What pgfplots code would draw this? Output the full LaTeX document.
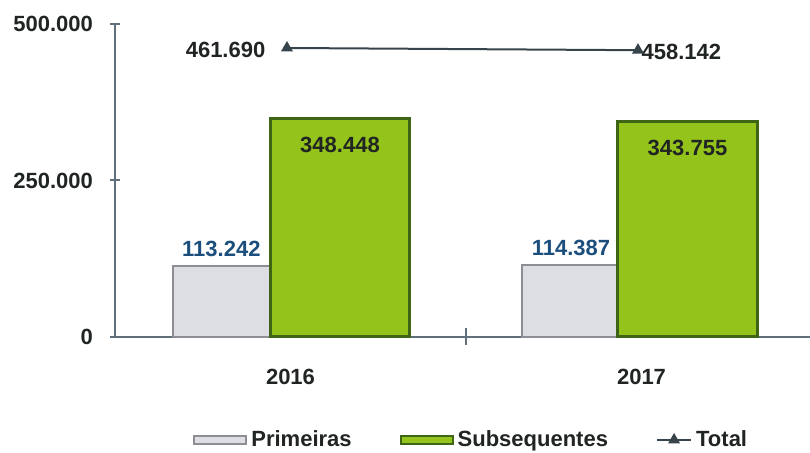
\documentclass[border=0pt]{standalone}
\usepackage{pgfplots}
\pgfplotsset{compat=1.18}
\usepackage{fontspec}
\setmainfont{Liberation Sans}

\definecolor{axisc}{RGB}{95,112,122}
\definecolor{txt}{RGB}{32,36,34}
\definecolor{lblblue}{RGB}{28,78,125}
\definecolor{greyfill}{RGB}{220,222,228}
\definecolor{greyedge}{RGB}{140,142,148}
\definecolor{greenfill}{RGB}{148,196,28}
\definecolor{greenedge}{RGB}{62,100,22}
\definecolor{linec}{RGB}{55,68,75}

\pgfplotsset{
  barlegend/.style={legend image code/.code={\draw[##1, line width=1pt] (0pt,-2pt) rectangle (26pt,2pt);}},
}

\begin{document}
\begin{tikzpicture}
\begin{axis}[
  scale only axis, width=347.5pt, height=156.5pt,
  xmin=-0.5, xmax=1.48, ymin=0, ymax=500000,
  axis lines*=left,
  axis line style={axisc, line width=1pt},
  font=\bfseries\fontsize{11}{13}\selectfont,
  tick label style={text=txt},
  ytick={0,250000,500000}, scaled y ticks=false,
  yticklabel style={/pgf/number format/fixed, /pgf/number format/1000 sep={.},
    /pgf/number format/assume math mode=true, xshift=-5pt},
  ytick style={axisc, line width=1pt},
  tick align=center, major tick length=5pt,
  xtick={0,1}, xticklabels={2016,2017},
  xtick style={draw=none},
  xticklabel style={yshift=-10pt},
  extra x ticks={0.5}, extra x tick labels={},
  extra x tick style={xtick style={draw=axisc, line width=1pt}, major tick length=8.5pt},
  clip=false,
  legend columns=3,
  legend style={at={(0.514,-0.329)}, anchor=center, draw=none, fill=none,
    font=\bfseries\fontsize{11}{13}\selectfont, text=txt,
    /tikz/every even column/.append style={column sep=22pt}},
]
\addplot[ybar, bar shift=0pt, bar width=0.278, fill=greyfill, draw=greyedge, line width=1pt,
  point meta=explicit symbolic, nodes near coords,
  every node near coord/.append style={text=lblblue, yshift=1pt}, barlegend]
  coordinates {(-0.197,113242) [113.242] (0.799,114387) [114.387]};
\addlegendentry{Primeiras}

\addplot[ybar, bar shift=0pt, bar width=0.397, fill=greenfill, draw=greenedge, line width=1.5pt,
  point meta=explicit symbolic, nodes near coords, nodes near coords align={below},
  every node near coord/.append style={text=txt, yshift=-5pt}, barlegend]
  coordinates {(0.141,348448) [348.448] (1.131,343755) [343.755]};
\addlegendentry{Subsequentes}

\addplot[linec, line width=1pt, mark=triangle*, mark size=2.5pt,
  mark options={fill=linec, draw=linec}]
  coordinates {(-0.010,461690) (0.990,458142)}
  node[pos=0, anchor=east, xshift=-7pt, text=txt, yshift=-1pt] {461.690}
  node[pos=1, anchor=west, xshift=-2pt, text=txt, yshift=-1pt] {458.142};
\addlegendentry{Total}

\coordinate (ll) at (rel axis cs:0,0);
\coordinate (ur) at (rel axis cs:1,1);
\end{axis}
\pgfresetboundingbox
\path ([shift={(-57.5pt,-58pt)}]ll) rectangle ([shift={(0pt,12pt)}]ur);
\end{tikzpicture}
\end{document}
